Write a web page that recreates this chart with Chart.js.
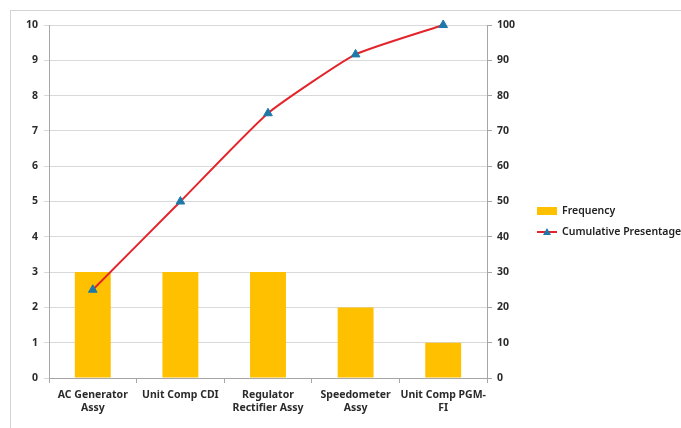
<!DOCTYPE html>
<html>
<head>
<meta charset="utf-8">
<script src="https://cdn.jsdelivr.net/npm/chart.js@4.4.1/dist/chart.umd.min.js"></script>
<style>
  html, body { margin: 0; padding: 0; background: #ffffff; }
  #wrap { position: relative; width: 681px; height: 428px; overflow: hidden; }
  #frame { position: absolute; left: 10px; top: 10px; width: 720px; height: 460px;
           border: 1px solid #d4d4d4; box-sizing: border-box; }
  #c { position: absolute; left: 0; top: 0; }
</style>
</head>
<body>
<div id="wrap">
  <div id="frame"></div>
  <canvas id="c" width="681" height="428"></canvas>
</div>
<script>
// Pareto data: defect frequency per component and running cumulative share
const categories = [
  ["AC Generator", "Assy"],
  ["Unit Comp CDI"],
  ["Regulator", "Rectifier Assy"],
  ["Speedometer", "Assy"],
  ["Unit Comp PGM-", "FI"]
];
const frequency = [3, 3, 3, 2, 1];
const cumulativePercent = [25, 50, 75, 91.67, 100];
const leftTicks = [0, 1, 2, 3, 4, 5, 6, 7, 8, 9, 10];
const rightTicks = [0, 10, 20, 30, 40, 50, 60, 70, 80, 90, 100];
const seriesNames = ["Frequency", "Cumulative Presentage"];

const BAR_COLOR = "#FFC000";
const LINE_COLOR = "#E3242B";
const MARKER_COLOR = "#1F78A8";
const TEXT_COLOR = "#2b2b2b";
const GRID_COLOR = "#D9D9D9";
const FONT = "'Noto Sans', 'DejaVu Sans', sans-serif";

// Legend drawn to the right of the plot: a swatch bar and a line with a triangle marker
const sideLegend = {
  id: "sideLegend",
  afterDraw(chart) {
    const ctx = chart.ctx;
    const x0 = 537, y1 = 211, y2 = 232;
    ctx.save();
    ctx.fillStyle = BAR_COLOR;
    ctx.fillRect(x0, y1 - 4, 20, 8);
    ctx.strokeStyle = LINE_COLOR;
    ctx.lineWidth = 2;
    ctx.beginPath();
    ctx.moveTo(x0, y2);
    ctx.lineTo(x0 + 20, y2);
    ctx.stroke();
    ctx.fillStyle = MARKER_COLOR;
    ctx.beginPath();
    ctx.moveTo(x0 + 10, y2 - 4);
    ctx.lineTo(x0 + 14, y2 + 3);
    ctx.lineTo(x0 + 6, y2 + 3);
    ctx.closePath();
    ctx.fill();
    ctx.fillStyle = "#222222";
    ctx.font = "600 10.5px " + FONT;
    ctx.textBaseline = "middle";
    ctx.fillText(seriesNames[0], x0 + 25, y1);
    ctx.fillText(seriesNames[1], x0 + 25, y2);
    ctx.restore();
  }
};

new Chart(document.getElementById("c"), {
  data: {
    labels: categories,
    datasets: [
      {
        type: "line",
        label: seriesNames[1],
        data: cumulativePercent,
        yAxisID: "yRight",
        borderColor: LINE_COLOR,
        borderWidth: 2,
        tension: 0.15,
        clip: false,
        pointStyle: "triangle",
        pointRadius: 5,
        pointBackgroundColor: MARKER_COLOR,
        pointBorderColor: MARKER_COLOR,
        pointBorderWidth: 1,
        order: 0
      },
      {
        type: "bar",
        label: seriesNames[0],
        data: frequency,
        yAxisID: "yLeft",
        backgroundColor: BAR_COLOR,
        barPercentage: 0.41,
        categoryPercentage: 1.0,
        order: 1
      }
    ]
  },
  options: {
    responsive: false,
    animation: false,
    layout: { padding: { left: 13, top: 25, right: 152, bottom: 6 } },
    plugins: { legend: { display: false }, tooltip: { enabled: false } },
    scales: {
      x: {
        offset: true,
        grid: { offset: true, drawOnChartArea: false, color: "#A6A6A6", tickLength: 5 },
        border: { color: "#A6A6A6" },
        ticks: { color: TEXT_COLOR, font: { family: FONT, size: 10.5, weight: "bold" },
                 maxRotation: 0, autoSkip: false, padding: 6 },
        afterFit(scale) { scale.height = 44; }
      },
      yLeft: {
        position: "left",
        min: 0, max: 10,
        afterBuildTicks(scale) { scale.ticks = leftTicks.map(v => ({ value: v })); },
        grid: { color: GRID_COLOR, tickLength: 5 },
        border: { color: "#A6A6A6" },
        ticks: { color: TEXT_COLOR, font: { family: FONT, size: 10.5, weight: "bold" }, padding: 6 },
        afterFit(scale) { scale.width = 36; }
      },
      yRight: {
        position: "right",
        min: 0, max: 100,
        afterBuildTicks(scale) { scale.ticks = rightTicks.map(v => ({ value: v })); },
        grid: { drawOnChartArea: false, color: "#A6A6A6", tickLength: 5 },
        border: { color: "#A6A6A6" },
        ticks: { color: TEXT_COLOR, font: { family: FONT, size: 10.5, weight: "bold" }, padding: 5 },
        afterFit(scale) { scale.width = 42; }
      }
    }
  },
  plugins: [sideLegend]
});
</script>
</body>
</html>
